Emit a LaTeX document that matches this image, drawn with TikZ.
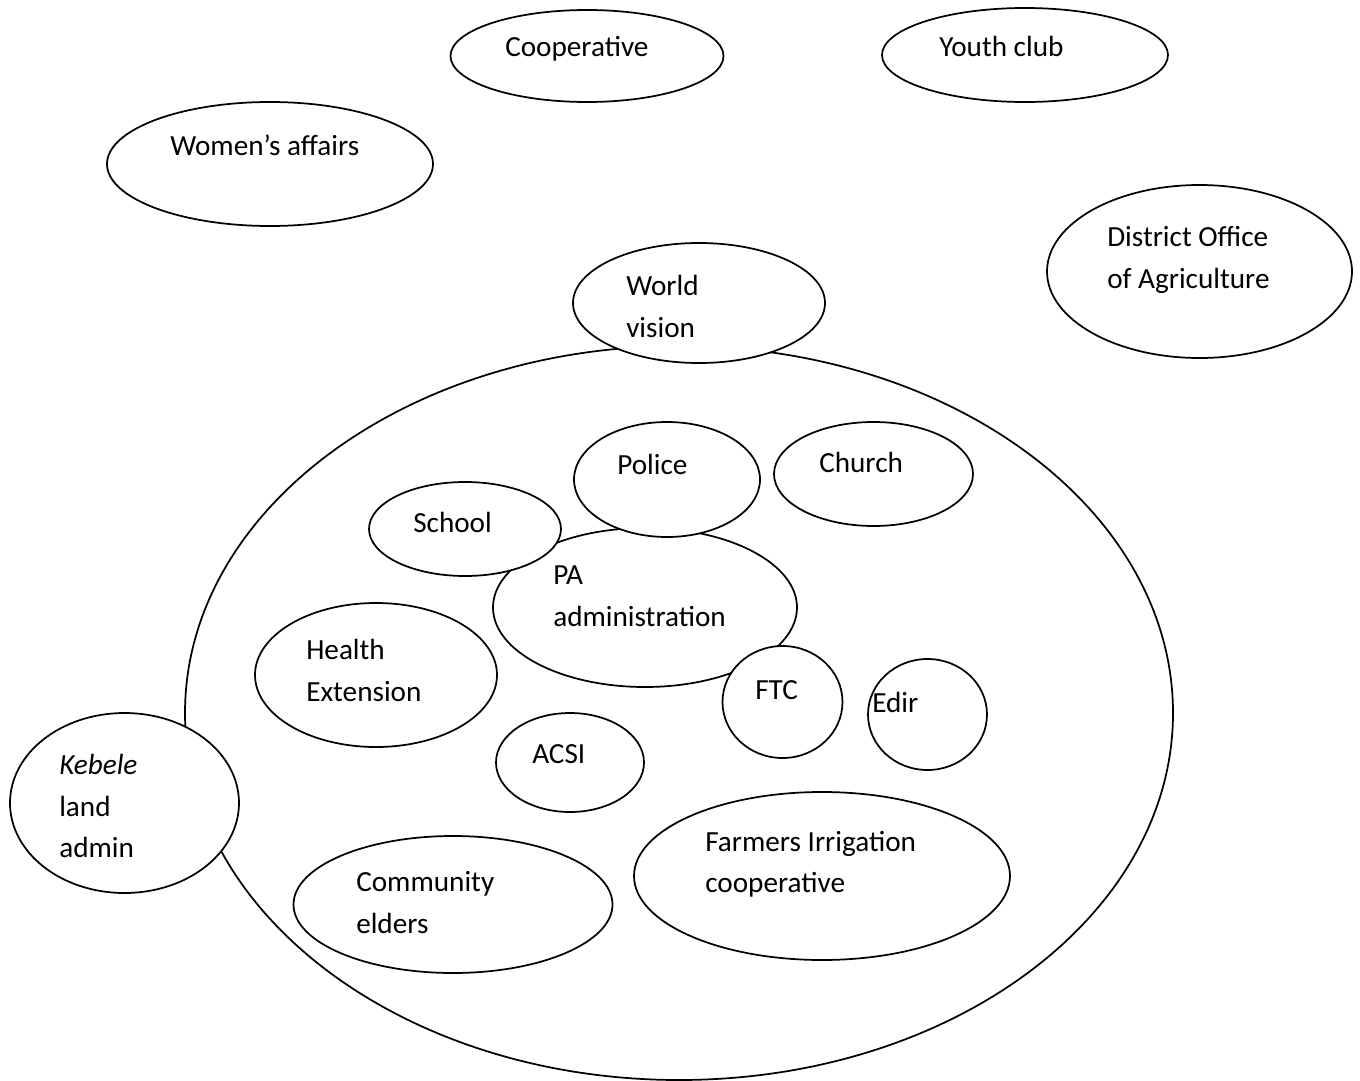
\documentclass[tikz,border=0pt]{standalone}
\usepackage{fontspec}
\setmainfont{Carlito}
\usetikzlibrary{shapes.geometric}
\tikzset{
  ell/.style 2 args={ellipse, draw=black, line width=1.3pt, fill=white, inner sep=0pt,
    minimum width=#1*0.75pt, minimum height=#2*0.75pt},
  lbl/.style={anchor=base west, inner sep=0pt,
    font=\fontsize{21.9}{31.5}\selectfont}
}
\begin{document}
\begin{tikzpicture}[x=0.75pt,y=-0.75pt]
\useasboundingbox[fill=white] (0,0) rectangle (1360,1081);
% outer elements
\node[ell={273}{92}] (coop) at (587,56) {};
\node[ell={286}{94}] (youth) at (1025,55) {};
\node[ell={326}{124}] (women) at (270,164) {};
\node[ell={305}{173}] (doa) at (1199.5,271.5) {};
% big circle
\node[ell={988}{734}] (big) at (679,713) {};
\node[ell={252}{120}] (wv) at (699,303) {};
\node[ell={229}{180}] (keb) at (124.5,803) {};
% inner elements
\node[ell={304}{159}] (pa) at (645,607.5) {};
\node[ell={186}{115}] (police) at (667,479.5) {};
\node[ell={199}{104}] (church) at (873.5,474) {};
\node[ell={192}{94}] (school) at (465,529) {};
\node[ell={242}{144}] (health) at (376,675) {};
\node[ell={120}{112}] (ftc) at (782.5,702) {};
\node[ell={119}{111}] (edir) at (927.5,714.5) {};
\node[ell={148}{99}] (acsi) at (570,762.5) {};
\node[ell={319}{137}] (elders) at (453,904.5) {};
\node[ell={376}{168}] (fic) at (822,876) {};
% labels
\node[lbl] (tcoop) at (505,57) {Cooperative};
\node[lbl] (tyouth) at (939,57) {Youth club};
\node[lbl] (twomen) at (170,155) {Women’s affairs};
\node[lbl] (tdoa1) at (1107,246) {District Office};
\node[lbl] (tdoa2) at (1107,288) {of Agriculture};
\node[lbl] (twv1) at (626,295) {World};
\node[lbl] (twv2) at (626,337) {vision};
\node[lbl] (tpolice) at (617,474) {Police};
\node[lbl] (tchurch) at (819,472) {Church};
\node[lbl] (tschool) at (413,532) {School};
\node[lbl] (tpa1) at (553,584) {PA};
\node[lbl] (tpa2) at (553,626) {administration};
\node[lbl] (thealth1) at (306,659) {Health};
\node[lbl] (thealth2) at (306,701) {Extension};
\node[lbl] (tftc) at (755,699) {FTC};
\node[lbl] (tedir) at (872,712) {Edir};
\node[lbl] (tacsi) at (532,763) {ACSI};
\node[lbl] (tkeb1) at (59,774) {\textit{Kebele}};
\node[lbl] (tkeb2) at (59,816) {land};
\node[lbl] (tkeb3) at (59,857) {admin};
\node[lbl] (telders1) at (356,891) {Community};
\node[lbl] (telders2) at (356,933) {elders};
\node[lbl] (tfic1) at (705,851) {Farmers Irrigation};
\node[lbl] (tfic2) at (705,892) {cooperative};
\end{tikzpicture}
\end{document}
